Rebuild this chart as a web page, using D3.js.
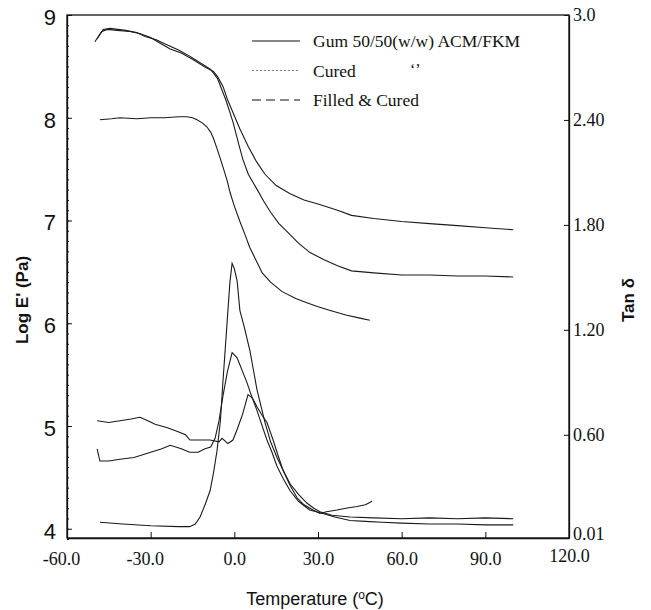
<!DOCTYPE html>
<html>
<head>
<meta charset="utf-8">
<script src="https://cdn.jsdelivr.net/npm/d3@7"></script>
<style>
  body { margin: 0; background: #fff; }
  .serif { font-family: "Liberation Serif", "Times New Roman", serif; }
  .sans { font-family: "Liberation Sans", Arial, sans-serif; }
</style>
</head>
<body>
<div id="chart"></div>
<script>
// x ticks / axis labels
var xTicks = [-60, -30, 0, 30, 60, 90, 120];
var leftTicks = [4, 5, 6, 7, 8, 9];
var rightTicks = [0.01, 0.6, 1.2, 1.8, 2.4, 3.0];
var rightTickLabels = ["0.01", "0.60", "1.20", "1.80", "2.40", "3.0"];
var legendNames = ["Gum 50/50(w/w) ACM/FKM", "Cured", "Filled & Cured"];

// Log E' (left axis)
var gumModT = [-50, -47.5, -45.5, -42, -37.5, -34, -30, -27.5, -23, -19, -15, -11, -7.5, -6, -4, -2.5, 0, 2, 5, 8, 11, 15, 20, 25, 30, 37, 42, 50, 60, 70, 80, 90, 100];
var gumMod = [8.74, 8.84, 8.86, 8.85, 8.84, 8.82, 8.78, 8.74, 8.67, 8.63, 8.57, 8.5, 8.45, 8.40, 8.3, 8.18, 8.02, 7.89, 7.72, 7.57, 7.45, 7.34, 7.26, 7.2, 7.16, 7.1, 7.05, 7.02, 6.99, 6.97, 6.95, 6.93, 6.91];
var curedModT = [-49.2, -47, -44.5, -39, -35, -32, -28, -25, -20, -16, -12, -8.5, -6, -3, -0.5, 1.5, 3, 5, 8, 10.5, 13, 16, 19, 23, 27, 32, 37, 42, 50, 60, 70, 80, 90, 100];
var curedMod = [8.77, 8.86, 8.87, 8.85, 8.83, 8.79, 8.76, 8.72, 8.66, 8.6, 8.53, 8.47, 8.38, 8.17, 7.96, 7.75, 7.6, 7.45, 7.31, 7.19, 7.08, 6.97, 6.89, 6.78, 6.69, 6.62, 6.56, 6.51, 6.49, 6.47, 6.47, 6.46, 6.46, 6.45];
var filledModT = [-48.2, -44, -41, -35, -30, -25, -20, -17, -15, -13.4, -11.5, -9.8, -8.5, -7.5, -6.2, -5, -3.5, -2.5, -1.5, 0, 2, 4, 5.5, 8, 10, 13, 17, 22, 26, 30, 35, 40, 45, 48.6];
var filledMod = [7.98, 7.99, 8.0, 7.99, 8.0, 8.0, 8.01, 8.01, 8.0, 7.98, 7.95, 7.91, 7.86, 7.8, 7.7, 7.6, 7.47, 7.38, 7.27, 7.14, 6.99, 6.85, 6.74, 6.6, 6.49, 6.4, 6.31, 6.24, 6.2, 6.16, 6.12, 6.08, 6.05, 6.03];

// Tan delta (right axis)
var gumTanT = [-48.2, -40, -30, -20, -16, -14, -12.3, -10.5, -8.7, -7.5, -6.2, -5, -4.1, -3, -1.6, -0.8, 0, 1, 2, 3.5, 5.6, 8.1, 11, 13, 15.3, 18, 20, 23, 26, 28.5, 30.7, 35, 41.5, 50, 60, 70, 80, 90, 100];
var gumTan = [0.10, 0.09, 0.08, 0.075, 0.075, 0.09, 0.13, 0.2, 0.28, 0.38, 0.51, 0.68, 0.9, 1.15, 1.47, 1.58, 1.55, 1.48, 1.31, 1.22, 1.08, 0.86, 0.67, 0.56, 0.47, 0.38, 0.32, 0.26, 0.21, 0.18, 0.16, 0.14, 0.13, 0.125, 0.12, 0.125, 0.12, 0.125, 0.12];
var curedTanT = [-49.2, -48.2, -45, -41, -36, -30, -26, -23, -19, -16, -13, -10.5, -8.5, -6.9, -5.5, -4.1, -2.5, -0.8, 1, 3, 4.5, 6, 8.1, 10, 11.7, 13.5, 15.3, 17.5, 20, 23, 27, 31.8, 36, 41.5, 47, 53, 60, 70, 80, 90, 100];
var curedTan = [0.52, 0.45, 0.45, 0.46, 0.47, 0.50, 0.52, 0.54, 0.52, 0.50, 0.50, 0.52, 0.53, 0.58, 0.68, 0.82, 0.96, 1.07, 1.04, 0.96, 0.90, 0.83, 0.74, 0.65, 0.57, 0.50, 0.42, 0.35, 0.28, 0.22, 0.17, 0.15, 0.13, 0.11, 0.105, 0.10, 0.095, 0.09, 0.09, 0.085, 0.085];
var filledTanT = [-49.2, -45, -41, -37, -33.8, -31, -28.4, -24, -20.6, -17.5, -15.9, -12, -8.7, -5.5, -4.4, -2.3, -0.5, 1, 3, 4.9, 6.5, 8.1, 10, 11.7, 13.9, 15.5, 17.4, 20, 22.5, 25, 28.2, 30.7, 33, 36.8, 40, 44, 47, 49.4];
var filledTan = [0.68, 0.67, 0.68, 0.69, 0.70, 0.68, 0.66, 0.64, 0.62, 0.60, 0.57, 0.57, 0.57, 0.56, 0.58, 0.55, 0.57, 0.63, 0.72, 0.83, 0.81, 0.76, 0.71, 0.67, 0.57, 0.49, 0.40, 0.31, 0.24, 0.2, 0.17, 0.15, 0.16, 0.17, 0.18, 0.19, 0.2, 0.22];

var svgWidth = 651;
var svgHeight = 610;
var margin = {top: 15, right: 82, bottom: 72, left: 67};
var width = svgWidth - margin.left - margin.right;
var height = svgHeight - margin.top - margin.bottom;

var svg = d3.select("#chart")
  .append("svg")
  .attr("width", svgWidth)
  .attr("height", svgHeight)
  .style("background", "#fff");

var chartGroup = svg.append("g")
  .attr("transform", `translate(${margin.left}, ${margin.top})`);

var xScale = d3.scaleLinear().domain([-60, 120]).range([0, width]);
var yLeft = d3.scaleLinear().domain([3.91, 9]).range([height, 0]);
var yRight = d3.scaleLinear().domain([0.01, 3.0]).range([height, 0]);

// frame
chartGroup.append("rect")
  .attr("width", width)
  .attr("height", height)
  .attr("fill", "none")
  .attr("stroke", "#111")
  .attr("stroke-width", 1.3);

// minor ticks on left axis
chartGroup.append("g")
  .call(d3.axisLeft(yLeft).tickValues(d3.range(39, 90).map(d => d / 10)).tickSize(-2).tickFormat(""))
  .call(g => g.select(".domain").remove())
  .selectAll("line").attr("stroke", "#666");

// axes
var bottomAxis = d3.axisBottom(xScale).tickValues(xTicks).tickSizeInner(-6).tickSizeOuter(0)
  .tickPadding(14).tickFormat(d => d.toFixed(1));
var leftAxis = d3.axisLeft(yLeft).tickValues(leftTicks).tickSizeInner(-5).tickSizeOuter(0)
  .tickPadding(11).tickFormat(d3.format("d"));
var rightAxis = d3.axisRight(yRight).tickValues(rightTicks).tickSizeInner(-5).tickSizeOuter(0)
  .tickPadding(4).tickFormat((d, i) => rightTickLabels[i]);

var gx = chartGroup.append("g")
  .attr("transform", `translate(0, ${height})`)
  .call(bottomAxis);
gx.selectAll("text").attr("class", "serif").attr("font-size", 18).attr("fill", "#111");
gx.selectAll(".tick").filter(d => d < 0).select("text").attr("dx", -6);
gx.selectAll(".tick").filter(d => d === 120).select("text").attr("y", 11);

var gl = chartGroup.append("g").call(leftAxis);
gl.selectAll("text").attr("class", "sans").attr("font-size", 22).attr("fill", "#111").attr("dy", "0.42em");

var gr = chartGroup.append("g")
  .attr("transform", `translate(${width}, 0)`)
  .call(rightAxis);
gr.selectAll("text").attr("class", "serif").attr("font-size", 18).attr("fill", "#111");
gr.selectAll(".tick").filter(d => d === 0.01).select("text").attr("dy", "0.1em");

chartGroup.selectAll(".domain").attr("stroke", "#111").attr("stroke-width", 1.3);
chartGroup.selectAll(".tick line").attr("stroke", "#111");

// curves
var modLine = d3.line().x(d => xScale(d[0])).y(d => yLeft(d[1]));
var tanLine = d3.line().x(d => xScale(d[0])).y(d => yRight(d[1]));

function pair(ts, vs) { return ts.map((t, i) => [t, vs[i]]); }

var curves = [
  {line: modLine, data: pair(gumModT, gumMod)},
  {line: modLine, data: pair(curedModT, curedMod)},
  {line: modLine, data: pair(filledModT, filledMod)},
  {line: tanLine, data: pair(gumTanT, gumTan)},
  {line: tanLine, data: pair(curedTanT, curedTan)},
  {line: tanLine, data: pair(filledTanT, filledTan)}
];

chartGroup.selectAll(".curve")
  .data(curves)
  .enter()
  .append("path")
  .attr("class", "curve")
  .attr("d", d => d.line(d.data))
  .attr("fill", "none")
  .attr("stroke", "#1a1a1a")
  .attr("stroke-width", 1.1);

// legend
var legendStyles = [
  {dash: null, color: "#111", w: 1.2},
  {dash: "2,2", color: "#777", w: 0.9},
  {dash: "9,5", color: "#111", w: 1.2}
];
var legend = svg.append("g");
legendNames.forEach(function(name, i) {
  var y = 41 + i * 29.5;
  legend.append("line")
    .attr("x1", 252).attr("x2", 300)
    .attr("y1", y).attr("y2", y)
    .attr("stroke", legendStyles[i].color)
    .attr("stroke-width", legendStyles[i].w)
    .attr("stroke-dasharray", legendStyles[i].dash);
  legend.append("text")
    .attr("class", "serif")
    .attr("x", 313).attr("y", y + 6)
    .attr("font-size", 17.5)
    .attr("fill", "#111")
    .text(name);
});
legend.append("text")
  .attr("class", "serif")
  .attr("x", 410).attr("y", 75)
  .attr("font-size", 16)
  .attr("fill", "#111")
  .text("‘’");

// axis titles
svg.append("text")
  .attr("class", "sans")
  .attr("transform", "translate(28, 300) rotate(-90)")
  .attr("text-anchor", "middle")
  .attr("font-size", 17)
  .attr("font-weight", "bold")
  .attr("fill", "#111")
  .text("Log E' (Pa)");

svg.append("text")
  .attr("class", "sans")
  .attr("transform", "translate(634, 300) rotate(-90)")
  .attr("text-anchor", "middle")
  .attr("font-size", 17)
  .attr("font-weight", "bold")
  .attr("fill", "#111")
  .text("Tan δ");

var xTitle = svg.append("text")
  .attr("class", "sans")
  .attr("x", 315).attr("y", 605)
  .attr("text-anchor", "middle")
  .attr("font-size", 18)
  .attr("fill", "#111");
xTitle.append("tspan").text("Temperature (");
xTitle.append("tspan").attr("font-size", 12).attr("dy", -6).text("o");
xTitle.append("tspan").attr("dy", 6).text("C)");
</script>
</body>
</html>
